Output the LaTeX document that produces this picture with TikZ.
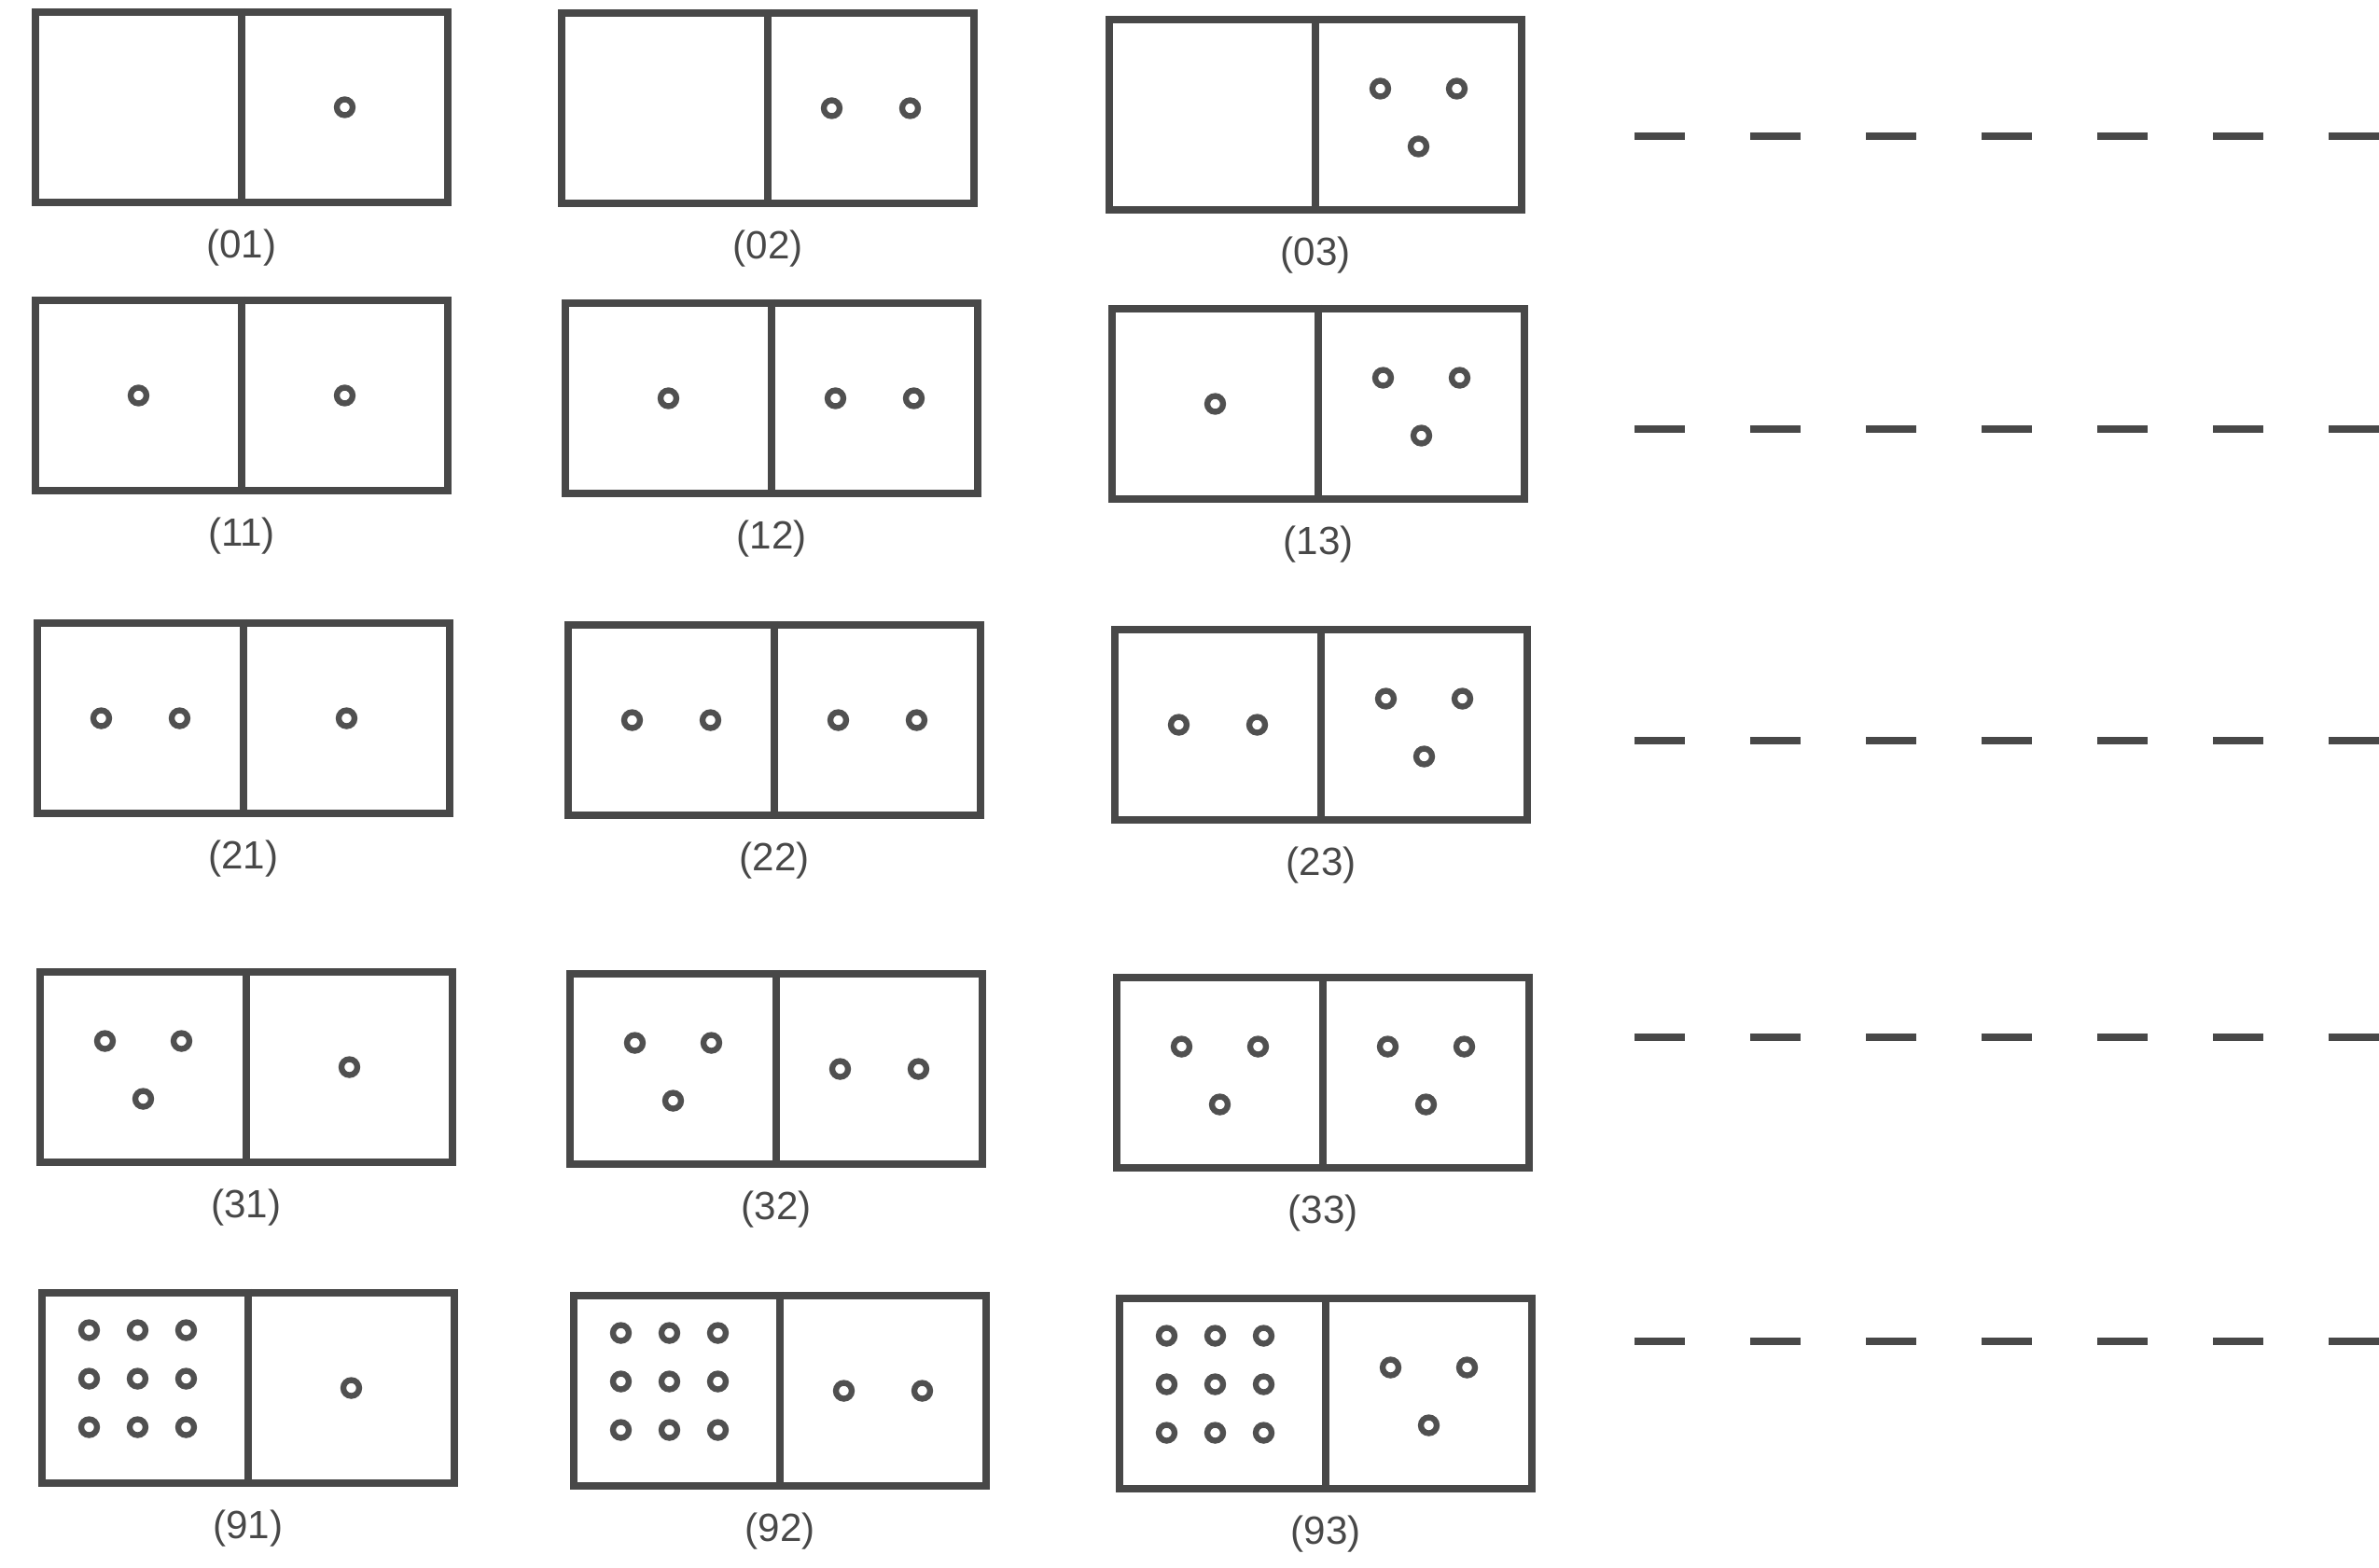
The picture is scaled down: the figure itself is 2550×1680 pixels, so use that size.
\documentclass[tikz,border=0pt]{standalone}
\usepackage{fontspec}
\setmainfont{Liberation Sans}
\usetikzlibrary{positioning}
\definecolor{inkGray}{RGB}{72,72,72}
\definecolor{pipGray}{RGB}{80,80,80}

\begin{document}
\begin{tikzpicture}[
  x=0.1mm, y=-0.1mm,
  font=\fontsize{12}{14}\selectfont,
  domino/.style={draw=inkGray, line width=2.4pt, minimum width=44.2mm, minimum height=20.4mm, inner sep=0pt},
  split/.style ={draw=inkGray, line width=2.2pt},
  pip/.style   ={draw=pipGray, line width=1.8pt, fill=white},
  tag/.style   ={text=inkGray, inner sep=1pt},
  trail/.style ={draw=inkGray, line width=2.4pt, dash pattern=on 5.4mm off 7mm},
  pips1/.pic={\draw[pip] (0,0) circle[radius=0.85mm];},
  pips2/.pic={\draw[pip] (-42,0) circle[radius=0.85mm];
              \draw[pip] (42,0) circle[radius=0.85mm];},
  pips3/.pic={\draw[pip] (-41,-28) circle[radius=0.85mm];
              \draw[pip] (41,-28) circle[radius=0.85mm];
              \draw[pip] (0,34) circle[radius=0.85mm];},
  pips9/.pic={\foreach \i in {-1,0,1}{\foreach \j in {-1,0,1}{
                \draw[pip] (-8+52*\i,-10+52*\j) circle[radius=0.85mm];}}},
]
\useasboundingbox (0,0) rectangle (2550,1680);

% ================= ROW 0 =================
\node[domino] (d01) at (259,115) {};
\node[domino] (d02) at (823,116) {};
\node[domino] (d03) at (1410,123) {};
\node[tag, below=2mm of d01] (l01) {(01)};
\node[tag, below=2mm of d02] (l02) {(02)};
\node[tag, below=2mm of d03] (l03) {(03)};
\pic at ([xshift=11.05mm]d01.center) {pips1};
\pic at ([xshift=11.05mm]d02.center) {pips2};
\pic at ([xshift=11.05mm]d03.center) {pips3};

% ================= ROW 1 =================
\node[domino] (d11) at (259,424) {};
\node[domino] (d12) at (827,427) {};
\node[domino] (d13) at (1413,433) {};
\node[tag, below=2mm of d11] (l11) {(11)};
\node[tag, below=2mm of d12] (l12) {(12)};
\node[tag, below=2mm of d13] (l13) {(13)};
\pic at ([xshift=-11.05mm]d11.center) {pips1};
\pic at ([xshift=11.05mm]d11.center) {pips1};
\pic at ([xshift=-11.05mm]d12.center) {pips1};
\pic at ([xshift=11.05mm]d12.center) {pips2};
\pic at ([xshift=-11.05mm]d13.center) {pips1};
\pic at ([xshift=11.05mm]d13.center) {pips3};

% ================= ROW 2 =================
\node[domino] (d21) at (261,770) {};
\node[domino] (d22) at (830,772) {};
\node[domino] (d23) at (1416,777) {};
\node[tag, below=2mm of d21] (l21) {(21)};
\node[tag, below=2mm of d22] (l22) {(22)};
\node[tag, below=2mm of d23] (l23) {(23)};
\pic at ([xshift=-11.05mm]d21.center) {pips2};
\pic at ([xshift=11.05mm]d21.center) {pips1};
\pic at ([xshift=-11.05mm]d22.center) {pips2};
\pic at ([xshift=11.05mm]d22.center) {pips2};
\pic at ([xshift=-11.05mm]d23.center) {pips2};
\pic at ([xshift=11.05mm]d23.center) {pips3};

% ================= ROW 3 =================
\node[domino] (d31) at (264,1144) {};
\node[domino] (d32) at (832,1146) {};
\node[domino] (d33) at (1418,1150) {};
\node[tag, below=2mm of d31] (l31) {(31)};
\node[tag, below=2mm of d32] (l32) {(32)};
\node[tag, below=2mm of d33] (l33) {(33)};
\pic at ([xshift=-11.05mm]d31.center) {pips3};
\pic at ([xshift=11.05mm]d31.center) {pips1};
\pic at ([xshift=-11.05mm]d32.center) {pips3};
\pic at ([xshift=11.05mm]d32.center) {pips2};
\pic at ([xshift=-11.05mm]d33.center) {pips3};
\pic at ([xshift=11.05mm]d33.center) {pips3};

% ================= ROW 9 =================
\node[domino] (d91) at (266,1488) {};
\node[domino] (d92) at (836,1491) {};
\node[domino] (d93) at (1421,1494) {};
\node[tag, below=2mm of d91] (l91) {(91)};
\node[tag, below=2mm of d92] (l92) {(92)};
\node[tag, below=2mm of d93] (l93) {(93)};
\pic at ([xshift=-11.05mm]d91.center) {pips9};
\pic at ([xshift=11.05mm]d91.center) {pips1};
\pic at ([xshift=-11.05mm]d92.center) {pips9};
\pic at ([xshift=11.05mm]d92.center) {pips2};
\pic at ([xshift=-11.05mm]d93.center) {pips9};
\pic at ([xshift=11.05mm]d93.center) {pips3};

% ================= DIVIDERS =================
\draw[split] (d01.north) -- (d01.south);
\draw[split] (d02.north) -- (d02.south);
\draw[split] (d03.north) -- (d03.south);
\draw[split] (d11.north) -- (d11.south);
\draw[split] (d12.north) -- (d12.south);
\draw[split] (d13.north) -- (d13.south);
\draw[split] (d21.north) -- (d21.south);
\draw[split] (d22.north) -- (d22.south);
\draw[split] (d23.north) -- (d23.south);
\draw[split] (d31.north) -- (d31.south);
\draw[split] (d32.north) -- (d32.south);
\draw[split] (d33.north) -- (d33.south);
\draw[split] (d91.north) -- (d91.south);
\draw[split] (d92.north) -- (d92.south);
\draw[split] (d93.north) -- (d93.south);

% ================= CONTINUATION DASHES =================
\coordinate (t0s) at (1752,146);  \coordinate (t0e) at (2550,146);
\coordinate (t1s) at (1752,460);  \coordinate (t1e) at (2550,460);
\coordinate (t2s) at (1752,794);  \coordinate (t2e) at (2550,794);
\coordinate (t3s) at (1752,1112); \coordinate (t3e) at (2550,1112);
\coordinate (t9s) at (1752,1438); \coordinate (t9e) at (2550,1438);
\draw[trail] (t0s) -- (t0e);
\draw[trail] (t1s) -- (t1e);
\draw[trail] (t2s) -- (t2e);
\draw[trail] (t3s) -- (t3e);
\draw[trail] (t9s) -- (t9e);

\end{tikzpicture}
\end{document}
